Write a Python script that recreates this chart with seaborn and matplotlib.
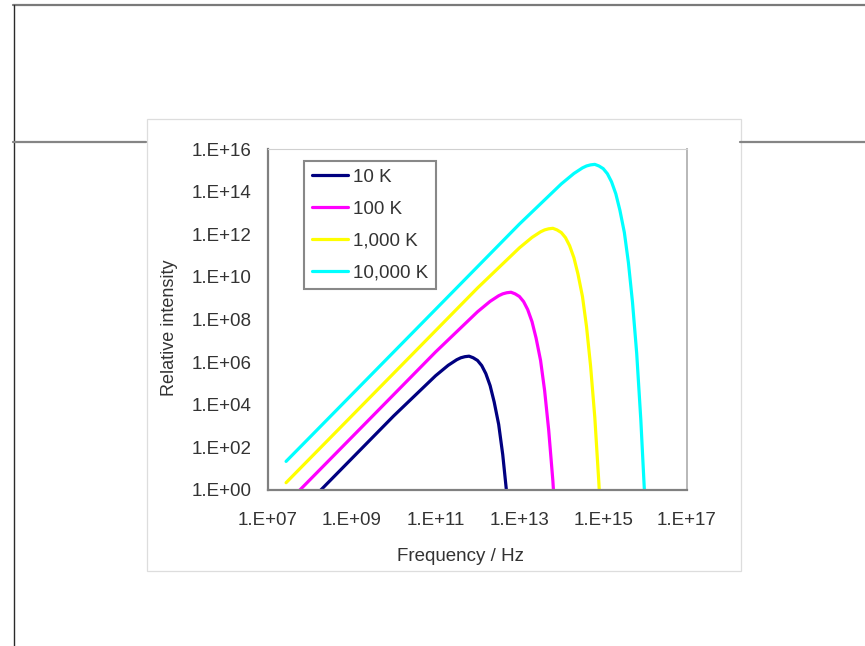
import numpy as np
import pandas as pd
import seaborn as sns
import matplotlib
matplotlib.use("Agg")
import matplotlib.pyplot as plt
from matplotlib.lines import Line2D
from matplotlib.patches import Rectangle
from matplotlib.ticker import FixedLocator, FuncFormatter, NullLocator

# Black-body spectra: relative intensity against frequency for four temperatures
series_labels = ["10 K", "100 K", "1,000 K", "10,000 K"]
series_colors = ["#000080", "#ff00ff", "#ffff00", "#00ffff"]

freq_10k = [2.7e7, 1.0e9, 1.0e10, 1.0e11, 2.0e11, 3.2e11, 4.0e11, 5.0e11, 6.3e11, 7.9e11,
            1.0e12, 1.26e12, 1.58e12, 2.0e12, 2.5e12, 3.2e12, 4.0e12, 5.0e12, 6.3e12]
int_10k = [2.2e-2, 3.0e1, 3.0e3, 2.3e5, 7.1e5, 1.3e6, 1.6e6, 1.8e6, 1.9e6, 1.6e6,
           1.2e6, 6.9e5, 2.9e5, 7.9e4, 1.35e4, 1.2e3, 4.6e1, 6.5e-1, 2.6e-3]

freq_100k = [2.7e7, 1.0e9, 1.0e10, 1.0e11, 1.0e12, 2.0e12, 3.2e12, 4.0e12, 5.0e12, 6.3e12, 7.9e12,
             1.0e13, 1.26e13, 1.58e13, 2.0e13, 2.5e13, 3.2e13, 4.0e13, 5.0e13, 6.3e13, 7.9e13]
int_100k = [2.2e-1, 3.0e2, 3.0e4, 3.0e6, 2.3e8, 7.1e8, 1.3e9, 1.6e9, 1.8e9, 1.9e9, 1.6e9,
            1.2e9, 6.9e8, 2.9e8, 7.9e7, 1.35e7, 1.2e6, 4.6e4, 6.5e2, 2.6e0, 2.0e-3]

freq_1000k = [2.7e7, 1.0e9, 1.0e10, 1.0e11, 1.0e12, 1.0e13, 2.0e13, 3.2e13, 4.0e13, 5.0e13, 6.3e13,
              7.9e13, 1.0e14, 1.26e14, 1.58e14, 2.0e14, 2.5e14, 3.2e14, 4.0e14, 5.0e14, 6.3e14,
              7.9e14, 1.0e15]
int_1000k = [2.2e0, 3.0e3, 3.0e5, 3.0e7, 3.0e9, 2.3e11, 7.1e11, 1.3e12, 1.6e12, 1.8e12, 1.9e12,
             1.6e12, 1.2e12, 6.9e11, 2.9e11, 7.9e10, 1.35e10, 1.2e9, 4.6e7, 6.5e5, 2.6e3,
             2.0e0, 2.1e-4]

freq_10000k = [2.7e7, 1.0e8, 1.0e9, 1.0e10, 1.0e11, 1.0e12, 1.0e13, 1.0e14, 2.0e14, 3.2e14, 4.0e14,
               5.0e14, 6.3e14, 7.9e14, 1.0e15, 1.26e15, 1.58e15, 2.0e15, 2.5e15, 3.2e15, 4.0e15,
               5.0e15, 6.3e15, 7.9e15, 1.0e16]
int_10000k = [2.2e1, 3.0e2, 3.0e4, 3.0e6, 3.0e8, 3.0e10, 3.0e12, 2.3e14, 7.1e14, 1.3e15, 1.6e15,
              1.8e15, 1.9e15, 1.6e15, 1.2e15, 6.9e14, 2.9e14, 7.9e13, 1.35e13, 1.2e12, 4.6e10,
              6.5e8, 2.6e6, 2.0e3, 2.1e-1]

x_ticks = [1e7, 1e9, 1e11, 1e13, 1e15, 1e17]
y_ticks = [1e0, 1e2, 1e4, 1e6, 1e8, 1e10, 1e12, 1e14, 1e16]

frames = []
for label, f, v in zip(series_labels,
                       [freq_10k, freq_100k, freq_1000k, freq_10000k],
                       [int_10k, int_100k, int_1000k, int_10000k]):
    frames.append(pd.DataFrame({"Frequency": f, "Intensity": v, "Temperature": label}))
df = pd.concat(frames, ignore_index=True)

sns.set_style("white")
plt.rcParams["font.family"] = ["Liberation Sans", "DejaVu Sans"]

W, H = 865, 646
fig = plt.figure(figsize=(W / 100, H / 100), dpi=100)
fig.patch.set_facecolor("white")


def fx(x):
    return x / W


def fy(y):
    return 1 - y / H


# slide frame around the chart
fig.add_artist(Line2D([fx(13), 1], [fy(5), fy(5)], color="#7a7a7a", lw=1.6))
fig.add_artist(Line2D([fx(13.5), fx(13.5)], [fy(5), 0], color="#2a2a2a", lw=1.0))
fig.add_artist(Line2D([fx(13), fx(146)], [fy(141.5), fy(141.5)], color="#858585", lw=1.6))
fig.add_artist(Line2D([fx(740), 1], [fy(141.5), fy(141.5)], color="#858585", lw=1.6))
fig.add_artist(Rectangle((fx(146.5), fy(571)), fx(740.5) - fx(146.5), fy(119) - fy(571),
                         transform=fig.transFigure, facecolor="white",
                         edgecolor="#dddddd", lw=0.9, zorder=-1))

AX_L, AX_R, AX_T, AX_B = 268, 687, 149, 490
ax = fig.add_axes([fx(AX_L), fy(AX_B), fx(AX_R) - fx(AX_L), fy(AX_T) - fy(AX_B)])
ax.set_facecolor("white")
ax.set_xscale("log")
ax.set_yscale("log")

sns.lineplot(data=df, x="Frequency", y="Intensity", hue="Temperature",
             hue_order=series_labels, palette=dict(zip(series_labels, series_colors)),
             estimator=None, sort=False, lw=2.3, ax=ax)

ax.set_xlim(1e7, 1e17)
ax.set_ylim(1e0, 1e16)

fmt = FuncFormatter(lambda v, p: f"1.E+{int(round(np.log10(v))):02d}")
ax.xaxis.set_major_locator(FixedLocator(x_ticks))
ax.yaxis.set_major_locator(FixedLocator(y_ticks))
ax.xaxis.set_minor_locator(NullLocator())
ax.yaxis.set_minor_locator(NullLocator())
ax.xaxis.set_major_formatter(fmt)
ax.yaxis.set_major_formatter(fmt)

ax.tick_params(axis="both", which="major", direction="out", length=3.6, width=1.2,
               color="#7f7f7f", labelsize=13.5, labelcolor="#333333")
ax.tick_params(axis="y", pad=8.5)
ax.tick_params(axis="x", pad=12)

for side in ["left", "bottom"]:
    ax.spines[side].set_color("#808080")
    ax.spines[side].set_linewidth(1.6)
ax.spines["top"].set_color("#d0d0d0")
ax.spines["top"].set_linewidth(0.8)
ax.spines["right"].set_color("#b8b8b8")
ax.spines["right"].set_linewidth(1.4)

ax.set_xlabel("Frequency / Hz", fontsize=13.5, color="#333333")
ax.set_ylabel("Relative intensity", fontsize=13, color="#333333")
ax.xaxis.set_label_coords((460 - AX_L) / (AX_R - AX_L), (AX_B - 548) / (AX_B - AX_T))
ax.yaxis.set_label_coords((178 - AX_L) / (AX_R - AX_L), (AX_B - 328) / (AX_B - AX_T))

handles, labels = ax.get_legend_handles_labels()
leg = ax.legend(handles, labels, loc="upper left",
                bbox_to_anchor=((304 - AX_L) / (AX_R - AX_L), (AX_B - 161) / (AX_B - AX_T)),
                borderaxespad=0, frameon=True, fancybox=False, edgecolor="#6a6a6a",
                fontsize=13.5, handlelength=1.9, handletextpad=0.3,
                labelspacing=0.78, borderpad=0.42)
leg.get_frame().set_linewidth(1.5)
for t in leg.get_texts():
    t.set_color("#333333")
for h in leg.get_lines():
    h.set_linewidth(2.3)

fig.savefig("out.png", dpi=100, facecolor="white")
